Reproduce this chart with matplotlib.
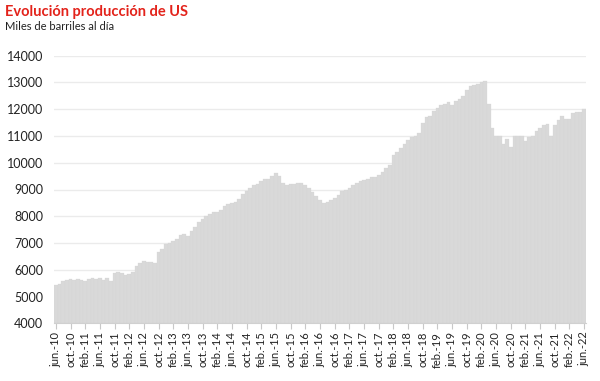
import matplotlib
matplotlib.use("Agg")
import matplotlib.pyplot as plt
import numpy as np

plt.rcParams['font.family'] = ['Lato', 'DejaVu Sans']

# Monthly US crude production (thousand barrels/day), jun-2010 .. jun-2022
prod_2010 = [5430, 5480, 5590, 5600, 5640, 5620, 5640]
prod_2011 = [5600, 5590, 5660, 5680, 5660, 5680, 5600, 5680, 5590, 5880, 5900, 5890]
prod_2012 = [5800, 5830, 5900, 6150, 6250, 6330, 6280, 6300, 6250, 6650, 6770, 6950]
prod_2013 = [7000, 7080, 7150, 7300, 7330, 7250, 7450, 7600, 7800, 7900, 8000, 8100]
prod_2014 = [8150, 8150, 8250, 8380, 8450, 8500, 8550, 8650, 8850, 8950, 9050, 9150]
prod_2015 = [9200, 9300, 9400, 9400, 9500, 9600, 9500, 9250, 9150, 9200, 9200, 9250]
prod_2016 = [9250, 9150, 9050, 8900, 8750, 8600, 8500, 8550, 8600, 8700, 8800, 8950]
prod_2017 = [9000, 9050, 9150, 9250, 9300, 9350, 9400, 9450, 9450, 9550, 9650, 9800]
prod_2018 = [9900, 10300, 10400, 10550, 10700, 10850, 10950, 11000, 11100, 11500, 11700, 11750]
prod_2019 = [11950, 12050, 12150, 12200, 12280, 12150, 12300, 12400, 12500, 12700, 12850, 12900]
prod_2020 = [12950, 13000, 13050, 12200, 11300, 11000, 11000, 10700, 10900, 10600, 11000, 11000]
prod_2021 = [11000, 10800, 10950, 11000, 11200, 11300, 11400, 11450, 11000, 11400, 11600, 11750]
prod_2022 = [11650, 11650, 11850, 11900, 11900, 12000]

production = (prod_2010 + prod_2011 + prod_2012 + prod_2013 + prod_2014 + prod_2015 +
              prod_2016 + prod_2017 + prod_2018 + prod_2019 + prod_2020 + prod_2021 + prod_2022)

tick_labels = []
for yr in range(10, 23):
    for mon in ['feb.', 'jun.', 'oct.']:
        tick_labels.append(f"{mon}-{yr}")
tick_labels = [t for t in tick_labels if t not in ('feb.-10', 'oct.-22')]
y_ticks = list(range(4000, 14001, 1000))

fig = plt.figure(figsize=(6.0, 3.81), dpi=100)
ax = fig.add_axes([54/600, 1-323.3/381, (586-54)/600, (323.3-55.7)/381])

x = np.arange(len(production))
ax.bar(x, np.array(production) - 4000, bottom=4000, width=1.0, color='#d9d9d9',
       edgecolor='#d5d5d5', linewidth=0.2, zorder=2)

ax.set_ylim(4000, 14000)
ax.set_xlim(-0.5, len(production) - 0.5)
ax.set_yticks(y_ticks)
ax.set_yticklabels([str(v) for v in y_ticks], fontsize=9, color='#222222')
ax.set_xticks(np.arange(0, len(production), 4))
ax.set_xticklabels(tick_labels, rotation=90, fontsize=8, color='#222222')
ax.grid(axis='y', color='#ebebeb', linewidth=1, zorder=0)
ax.set_axisbelow(True)
for s in ['top', 'right', 'left']:
    ax.spines[s].set_visible(False)
ax.spines['bottom'].set_color('#d0d0d0')
ax.tick_params(axis='y', length=0, pad=8)
ax.tick_params(axis='x', length=4, color='#c8c8c8', pad=2)

fig.text(5/600, 1-12/381, "Evolución producción de US", color='#e3231b', fontsize=10.5,
         fontweight='bold', va='center', ha='left')
fig.text(5/600, 1-27/381, "Miles de barriles al día", color='#222222', fontsize=8,
         va='center', ha='left')

fig.savefig("out.png", dpi=100)
